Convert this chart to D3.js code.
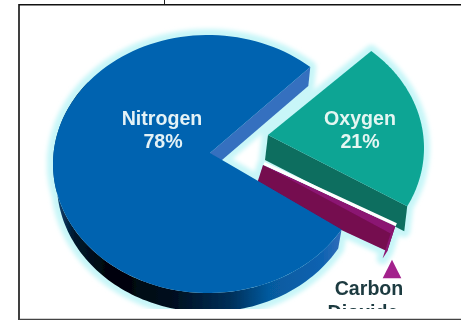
<!DOCTYPE html>
<html>
<head>
<meta charset="utf-8">
<script src="https://cdn.jsdelivr.net/npm/d3@7"></script>
<style>
  html, body { margin: 0; padding: 0; background: #fff; }
  svg { display: block; }
  text { font-family: "Liberation Sans", Arial, sans-serif; font-weight: bold; font-size: 19.6px; text-anchor: middle; }
</style>
</head>
<body>
<svg id="chart" width="461" height="320"></svg>
<script>
// Composition of dry air, in percent
const gases = ["Nitrogen", "Oxygen", "Carbon Dioxide"];
const shares = [78, 21, 1];

// Drawing settings for each slice, in the same order as the gases
const topColors = ["#0563b0", "#0fa594", "#8b1472"];
const sideColors = ["#3570bf", "#0c6e5e", "#74084f"];
const explodeX = [0, 61, 49];
const explodeY = [0, -16, 4];
const apexX = [2, -1, 6];
const apexY = [-11, -13, -3];
const depthX = [-2, -3, -8];
const depthY = [19, 25, 25];
const wallDx = [0, -3, -8];
const wallScale = [0.975, 1, 1];

const svg = d3.select("#chart");
const cx = 208, cy = 164, rx = 155, ry = 129;
const xOut = d3.scaleLinear().domain([0, 1]).range([0, rx]);
const yOut = d3.scaleLinear().domain([0, 1]).range([0, ry]);

const slices = d3.pie().sort(null).value(d => d)
  .startAngle(120.5 * Math.PI / 180)
  .endAngle(480.5 * Math.PI / 180)(shares);

const line = d3.line();
const rimPoint = (i, a) => [
  cx + explodeX[i] + xOut(Math.sin(a)),
  cy + explodeY[i] - yOut(Math.cos(a))
];
const apexPoint = i => [cx + explodeX[i] + apexX[i], cy + explodeY[i] + apexY[i]];
const shifted = (p, i) => [p[0] + depthX[i], p[1] + depthY[i]];
const arcPoints = (i, a0, a1) =>
  d3.range(0, 121).map(k => rimPoint(i, a0 + (a1 - a0) * k / 120));

// Flat top of a slice
const topFace = (s, i) => line([apexPoint(i), ...arcPoints(i, s.startAngle, s.endAngle)]) + "Z";
// Cut face running from the centre of a slice to one point of its rim
const cutFace = (i, a) => {
  const p = rimPoint(i, a), q = apexPoint(i);
  return line([q, p, shifted(p, i), shifted(q, i)]) + "Z";
};
// Curved outer wall of a slice between two angles
const wall = (i, a0, a1) => {
  const pts = arcPoints(i, a0, a1);
  const mid = cx + explodeX[i];
  const lower = pts.slice().reverse().map(p =>
    [mid + (p[0] - mid) * wallScale[i] + wallDx[i], p[1] + depthY[i]]);
  return line([...pts, ...lower]) + "Z";
};

const defs = svg.append("defs");
defs.append("filter").attr("id", "soft").attr("x", "-10%").attr("y", "-10%").attr("width", "120%").attr("height", "120%")
  .append("feGaussianBlur").attr("stdDeviation", 0.7);
defs.append("filter").attr("id", "halo").attr("x", "-15%").attr("y", "-15%").attr("width", "130%").attr("height", "130%")
  .append("feGaussianBlur").attr("stdDeviation", 2);
defs.append("clipPath").attr("id", "plate").append("rect")
  .attr("x", 0).attr("y", 0).attr("width", 461).attr("height", 309);

// The wall of the main slice fades from near black on the left to mid blue on the right
const shade = defs.append("linearGradient").attr("id", "wallShade")
  .attr("gradientUnits", "userSpaceOnUse")
  .attr("x1", 54).attr("x2", 340).attr("y1", 0).attr("y2", 0);
[[0, "#0b4a80"], [0.07, "#04192e"], [0.2, "#000208"], [0.42, "#010f20"], [0.62, "#03305a"],
 [0.75, "#065a9e"], [0.93, "#0a62b0"], [1, "#2f6cb9"]].forEach(([o, c]) =>
  shade.append("stop").attr("offset", o).attr("stop-color", c));

const chart = svg.append("g").attr("clip-path", "url(#plate)");

// The main slice only shows its wall along the front, up to the left-hand edge
const wallEnd = slices[0].startAngle + Math.PI * 1.05;

// Pale cyan glow hugging every slice
const halo = chart.append("g").attr("filter", "url(#halo)")
  .attr("fill", "#c8f6f8").attr("stroke", "#c8f6f8").attr("stroke-width", 12).attr("stroke-linejoin", "round");
slices.forEach((s, i) => {
  halo.append("path").attr("d", topFace(s, i));
  halo.append("path").attr("d", cutFace(i, i === 0 ? s.endAngle : s.startAngle));
  if (i === 1) halo.append("path").attr("d", cutFace(i, s.endAngle));
  if (i === 2) halo.append("path").attr("d", wall(i, s.startAngle, s.endAngle));
});
halo.append("path").attr("d", wall(0, slices[0].startAngle, wallEnd));

const marks = chart.append("g").attr("filter", "url(#soft)");

// Oxygen, pulled out to the upper right
marks.append("path").attr("d", cutFace(1, slices[1].endAngle)).attr("fill", sideColors[1]);
marks.append("path").attr("d", topFace(slices[1], 1)).attr("fill", topColors[1]);

// Carbon dioxide: a sliver that mostly shows its cut face and outer wall
marks.append("path").attr("d", cutFace(2, slices[2].startAngle)).attr("fill", sideColors[2]);
marks.append("path").attr("d", wall(2, slices[2].startAngle, slices[2].endAngle)).attr("fill", topColors[2]);
marks.append("path").attr("d", topFace(slices[2], 2)).attr("fill", topColors[2]);
marks.append("path")
  .attr("d", line([apexPoint(2), rimPoint(2, slices[2].startAngle)]))
  .attr("fill", "none").attr("stroke", "#ffffff").attr("stroke-width", 3.2)
  .attr("transform", "translate(1,-1.6)");

// Nitrogen sits in front of the sliver
marks.append("path").attr("d", wall(0, slices[0].startAngle, wallEnd)).attr("fill", "url(#wallShade)");
marks.append("path").attr("d", cutFace(0, slices[0].endAngle)).attr("fill", sideColors[0]);
marks.append("path").attr("d", topFace(slices[0], 0)).attr("fill", topColors[0]);

// Marker above the carbon dioxide label
marks.append("path")
  .attr("d", d3.symbol(d3.symbolTriangle).size(150))
  .attr("transform", "translate(392,272) scale(1,1.15)")
  .attr("fill", "#a3208c");

// Labels
const labels = chart.append("g").attr("filter", "url(#soft)");
const labelRows = [
  [gases[0], 162, 125, "#e4f2f6"],
  [shares[0] + "%", 163, 148, "#e4f2f6"],
  [gases[1], 360, 125, "#e4f6f2"],
  [shares[1] + "%", 360, 148, "#e4f6f2"],
  [gases[2].split(" ")[0], 369, 295, "#1d3a40"],
  [gases[2].split(" ")[1], 363, 319, "#1d3a40"]
];
labels.selectAll("text").data(labelRows).join("text")
  .attr("x", d => d[1]).attr("y", d => d[2]).attr("fill", d => d[3]).text(d => d[0]);

// Page rules surrounding the figure
svg.append("path")
  .attr("d", "M19,320V4.7H461")
  .attr("fill", "none").attr("stroke", "#111").attr("stroke-width", 1.6);
svg.append("line").attr("x1", 164.5).attr("x2", 164.5).attr("y1", 0).attr("y2", 4).attr("stroke", "#222");
svg.append("line").attr("x1", 19).attr("x2", 461).attr("y1", 319.5).attr("y2", 319.5).attr("stroke", "#444").attr("stroke-width", 1.4);
</script>
</body>
</html>
